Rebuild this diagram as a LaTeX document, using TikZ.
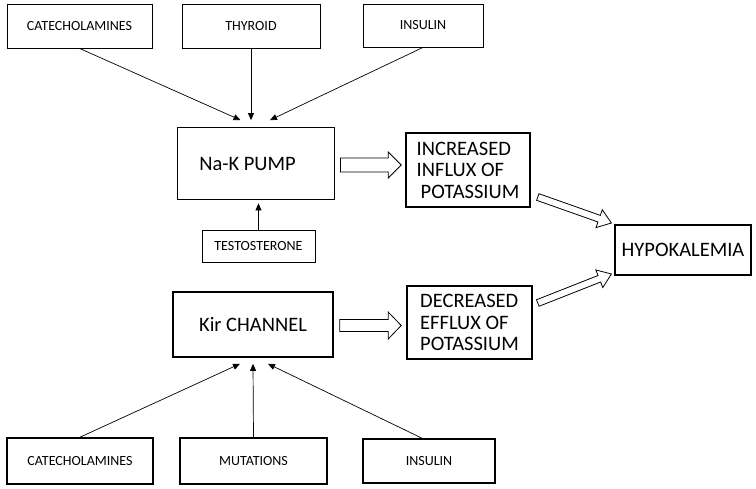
\documentclass[tikz,border=0pt]{standalone}
\usepackage{fontspec}
\setmainfont{Carlito}
\usepackage{tikz}
\usetikzlibrary{arrows.meta,calc}
\tikzset{
  thinbox/.style={draw, line width=0.8pt, align=center, inner sep=2pt,
                  font=\fontsize{14}{16}\selectfont},
  thickbox/.style={draw, line width=1.6pt, align=center, inner sep=2pt,
                  font=\fontsize{14}{16}\selectfont},
  bigtxt/.style={font=\fontsize{20.5}{21.5}\selectfont},
  inarr/.style={-{Triangle[length=7pt,width=6pt]}, line width=0.7pt},
  fatarr/.style={draw, line width=0.8pt, fill=white, line join=miter}
}
% hollow block arrow: from, to, shaft half width, head half width
\newcommand{\fatarrow}[4]{%
  \coordinate (hb) at ($(#2)!13pt!(#1)$);
  \draw[fatarr] ($(#1)!#3pt!90:(#2)$) -- ($(hb)!#3pt!90:(#2)$)
    -- ($(hb)!#4pt!90:(#2)$) -- (#2) -- ($(hb)!#4pt!-90:(#2)$)
    -- ($(hb)!#3pt!-90:(#2)$) -- ($(#1)!#3pt!-90:(#2)$) -- cycle;
}

\begin{document}
\begin{tikzpicture}[x=1pt, y=-1pt]
\useasboundingbox (0,0) rectangle (756,488);

% upper row
\node[thinbox, minimum width=145, minimum height=44] (tcat) at (79.5,26) {CATECHOLAMINES};
\node[thinbox, minimum width=138, minimum height=44] (tthy) at (251,26) {THYROID};
\node[thinbox, minimum width=120, minimum height=43] (tins) at (423,25.5) {INSULIN};

\node[thinbox, bigtxt, minimum width=157, minimum height=72] (pump) at (255.5,163.5)
  {\hspace*{-16pt}Na-K PUMP};
\node[thinbox, minimum width=113, minimum height=32] (testo) at (258.5,246) {TESTOSTERONE};
\node[thickbox, bigtxt, align=left, minimum width=124, minimum height=74] (incr) at (468,170)
  {INCREASED\\INFLUX OF\\\hspace{4pt}POTASSIUM};

\node[draw, line width=1.2pt, bigtxt, minimum width=136, minimum height=50] (hypo) at (683,250) {HYPOKALEMIA};

% lower row
\node[thickbox, bigtxt, minimum width=160, minimum height=65] (kir) at (253,324.5) {Kir CHANNEL};
\node[thickbox, bigtxt, align=left, minimum width=125, minimum height=73] (decr) at (469.5,322.5)
  {DECREASED\\EFFLUX OF\\POTASSIUM};

\node[thickbox, minimum width=146, minimum height=46] (bcat) at (80,461) {CATECHOLAMINES};
\node[thickbox, minimum width=147, minimum height=46] (bmut) at (253.5,461) {MUTATIONS};
\node[thickbox, minimum width=132, minimum height=44] (bins) at (429,461) {INSULIN};

% thin arrows
\coordinate (p1) at ($(pump.north)+(-15,-7)$);
\coordinate (p2) at ($(pump.north)+(-4.5,-7)$);
\coordinate (p3) at ($(pump.north)+(14.5,-7)$);
\coordinate (p4) at ($(pump.south)+(3,3.5)$);
\coordinate (k1) at ($(kir.south)+(-13,6)$);
\coordinate (k2) at ($(kir.south)+(0,6)$);
\coordinate (k3) at ($(kir.south)+(15,6)$);
\draw[inarr] (tcat.south) -- (p1);
\draw[inarr] (tthy.south) -- (p2);
\draw[inarr] (tins.south) -- (p3);
\draw[inarr] (testo.north) -- (p4);
\draw[inarr] (bcat.north) -- (k1);
\draw[inarr] (bmut.north) -- (k2);
\draw[inarr] ($(bins.north)+(-7,0)$) -- (k3);

% block arrows
\coordinate (a1) at ($(pump.east)+(6,1.5)$);
\coordinate (a1t) at ($(incr.west)+(-4,-5)$);
\coordinate (a2) at ($(kir.east)+(6,1)$);
\coordinate (a2t) at ($(decr.west)+(-5,3)$);
\coordinate (a3) at ($(incr.east)+(7,27)$);
\coordinate (a3t) at ($(hypo.west)+(-3,-27)$);
\coordinate (a4) at ($(decr.east)+(5,-19.5)$);
\coordinate (a4t) at ($(hypo.west)+(-3,24)$);
\fatarrow{a1}{a1t}{7}{13}
\fatarrow{a2}{a2t}{6}{13.5}
\fatarrow{a3}{a3t}{3.5}{9.5}
\fatarrow{a4}{a4t}{3.5}{9.5}
\end{tikzpicture}
\end{document}
